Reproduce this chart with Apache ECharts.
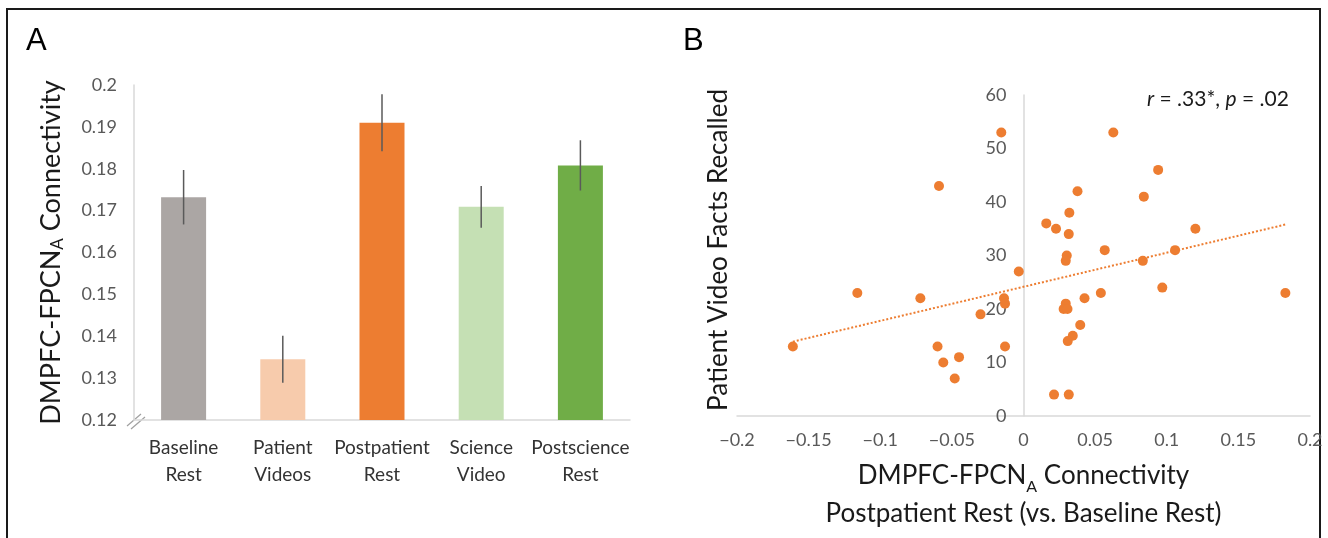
<!DOCTYPE html>
<html>
<head>
<meta charset="utf-8">
<script src="https://cdn.jsdelivr.net/npm/echarts@6/dist/echarts.min.js"></script>
<style>
html,body{margin:0;padding:0;background:#fff;}
#main{width:1328px;height:538px;}
</style>
</head>
<body>
<div id="main"></div>
<script>
// ---- Panel A data ----
var categories = ['Baseline\nRest', 'Patient\nVideos', 'Postpatient\nRest', 'Science\nVideo', 'Postscience\nRest'];
var barMeans = [0.1732, 0.1345, 0.1910, 0.1709, 0.1808];
var barErrors = [0.0065, 0.0056, 0.0068, 0.0050, 0.0060];
var barColors = ['#aba6a4', '#f7cbac', '#ed7d31', '#c5e0b4', '#70ad47'];
var yTicksA = {min: 0.12, max: 0.2, interval: 0.01};

// ---- Panel B data ----
var scatterX = [-0.161, -0.116, -0.072, -0.059, -0.060, -0.056, -0.045, -0.048, -0.030, -0.0155,
                -0.0136, -0.0129, -0.0129, -0.0033, 0.0627, 0.094, 0.0377, 0.084, 0.032, 0.0159,
                0.0227, 0.120, 0.0316, 0.0567, 0.1058, 0.0302, 0.0295, 0.0833, 0.0969, 0.054,
                0.1828, 0.0426, 0.0295, 0.028, 0.0307, 0.0396, 0.0344, 0.0309, 0.0213, 0.0316];
var scatterY = [13, 23, 22, 43, 13, 10, 11, 7, 19, 53,
                22, 21, 13, 27, 53, 46, 42, 41, 38, 36,
                35, 35, 34, 31, 31, 30, 29, 29, 24, 23,
                23, 22, 21, 20, 20, 17, 15, 14, 4, 4];
var trendX = [-0.161, 0.183];
var trendY = [13.9, 35.8];
var xTicksB = {min: -0.2, max: 0.2, interval: 0.05};
var yTicksB = {min: 0, max: 60, interval: 10};
var statText = '{i|r} = .33*, {i|p} = .02';
var yNameB = 'Patient Video Facts Recalled';

var FONT = 'Lato';
var TICK = '#595959';
var AXIS = '#d9d9d9';
var TITLE = '#1a1a1a';

// panel B plot frame (pixels)
var gB = {left: 737, top: 95, width: 573, height: 321};
// where x = 0 falls inside panel B (for the y-axis that sits on zero)
var zeroLeft = gB.left + gB.width * (0 - xTicksB.min) / (xTicksB.max - xTicksB.min);

var chart = echarts.init(document.getElementById('main'));

var barData = barMeans.map(function (v, i) {
  return {value: v, itemStyle: {color: barColors[i]}};
});
var errData = barMeans.map(function (v, i) {
  return [i, v - barErrors[i], v + barErrors[i]];
});
var scatterData = scatterX.map(function (x, i) { return [x, scatterY[i]]; });
var trendData = trendX.map(function (x, i) { return [x, trendY[i]]; });

function minusFmt(v) {
  if (Math.abs(v) < 1e-9) return '0';
  var s = String(+v.toFixed(2));
  return v < 0 ? '\u2212' + s.replace('-', '') : s;
}

function subRich(size) {
  return {sub: {fontSize: Math.round(size * 0.62), fontFamily: FONT, color: TITLE, verticalAlign: 'bottom', padding: [Math.round(size * 0.45), 0, 0, 0]}};
}

var option = {
  animation: false,
  backgroundColor: '#ffffff',
  grid: [
    {left: 134, top: 85, width: 496, height: 335, outerBoundsMode: 'none', containLabel: false},
    {left: gB.left, top: gB.top, width: gB.width, height: gB.height, outerBoundsMode: 'none', containLabel: false},
    {left: zeroLeft, top: gB.top, width: gB.left + gB.width - zeroLeft, height: gB.height, outerBoundsMode: 'none', containLabel: false}
  ],
  xAxis: [
    {
      gridIndex: 0, type: 'category', data: categories,
      axisLine: {show: true, lineStyle: {color: AXIS, width: 1.5}},
      axisTick: {show: false},
      axisLabel: {color: '#333', fontSize: 19, fontFamily: FONT, lineHeight: 27, margin: 14, interval: 0}
    },
    {
      gridIndex: 1, type: 'value', min: xTicksB.min, max: xTicksB.max, interval: xTicksB.interval,
      axisLine: {show: true, onZero: false, lineStyle: {color: AXIS, width: 1.5}},
      axisTick: {show: false},
      splitLine: {show: false},
      axisLabel: {color: TICK, fontSize: 18, fontFamily: FONT, margin: 15, formatter: minusFmt},
      name: 'DMPFC-FPCN{sub|A} Connectivity\nPostpatient Rest (vs. Baseline Rest)',
      nameLocation: 'middle', nameGap: 41,
      nameTextStyle: {fontSize: 26, fontFamily: FONT, color: TITLE, lineHeight: 38, rich: subRich(26)}
    },
    {
      gridIndex: 2, type: 'value', min: 0, max: xTicksB.max, show: false
    }
  ],
  yAxis: [
    {
      gridIndex: 0, type: 'value', min: yTicksA.min, max: yTicksA.max, interval: yTicksA.interval,
      axisLine: {show: true, lineStyle: {color: AXIS, width: 1.5}},
      axisTick: {show: false},
      splitLine: {show: false},
      axisLabel: {color: TICK, fontSize: 18, fontFamily: FONT, margin: 17,
        formatter: function (v) { return String(+v.toFixed(2)); }},
      name: 'DMPFC-FPCN{sub|A} Connectivity',
      nameLocation: 'middle', nameGap: 68, nameRotate: 90,
      nameTextStyle: {fontSize: 27, fontFamily: FONT, color: TITLE, rich: subRich(27)}
    },
    {
      gridIndex: 1, type: 'value', min: yTicksB.min, max: yTicksB.max, interval: yTicksB.interval,
      axisLine: {show: false}, axisTick: {show: false}, axisLabel: {show: false}, splitLine: {show: false}
    },
    {
      gridIndex: 2, type: 'value', min: yTicksB.min, max: yTicksB.max, interval: yTicksB.interval,
      axisLine: {show: true, onZero: false, lineStyle: {color: AXIS, width: 1.5}},
      axisTick: {show: false},
      splitLine: {show: false},
      axisLabel: {color: TICK, fontSize: 18, fontFamily: FONT, margin: 17}
    }
  ],
  series: [
    {
      type: 'bar', xAxisIndex: 0, yAxisIndex: 0, data: barData, barWidth: 45
    },
    {
      type: 'custom', xAxisIndex: 0, yAxisIndex: 0, data: errData, z: 5,
      renderItem: function (params, api) {
        var lo = api.coord([api.value(0), api.value(1)]);
        var hi = api.coord([api.value(0), api.value(2)]);
        return {
          type: 'line',
          shape: {x1: lo[0], y1: lo[1], x2: hi[0], y2: hi[1]},
          style: {stroke: '#5a5a5a', lineWidth: 1.5}
        };
      }
    },
    {
      type: 'line', xAxisIndex: 1, yAxisIndex: 1, data: trendData, symbol: 'none',
      lineStyle: {color: '#ed7d31', width: 2, type: [2, 2]}, z: 1
    },
    {
      type: 'scatter', xAxisIndex: 1, yAxisIndex: 1, data: scatterData, symbolSize: 10,
      itemStyle: {color: '#ed7d31', opacity: 1}, z: 3
    }
  ],
  graphic: [
    {type: 'rect', shape: {x: 7, y: 9, width: 1313, height: 560},
      style: {fill: 'none', stroke: '#1a1a1a', lineWidth: 2}, silent: true},
    {type: 'text', left: 26, top: 26, style: {text: 'A', font: '31px "Liberation Sans"', fill: '#000'}},
    {type: 'text', left: 683, top: 26, style: {text: 'B', font: '31px "Liberation Sans"', fill: '#000'}},
    {type: 'text', left: 1147, top: 89, style: {
      text: statText, font: '21px Lato', fill: TITLE,
      rich: {i: {fontStyle: 'italic', fontSize: 21, fontFamily: FONT, fill: TITLE}}
    }},
    {type: 'text', x: 719, y: 250, rotation: Math.PI / 2, style: {
      text: yNameB, font: '26px Lato', fill: TITLE, align: 'center', verticalAlign: 'middle'
    }},
    {type: 'line', shape: {x1: 127, y1: 426, x2: 141, y2: 414}, style: {stroke: '#a0a0a0', lineWidth: 1.2}},
    {type: 'line', shape: {x1: 131, y1: 429, x2: 145, y2: 417}, style: {stroke: '#a0a0a0', lineWidth: 1.2}}
  ]
};
chart.setOption(option);
</script>
</body>
</html>
